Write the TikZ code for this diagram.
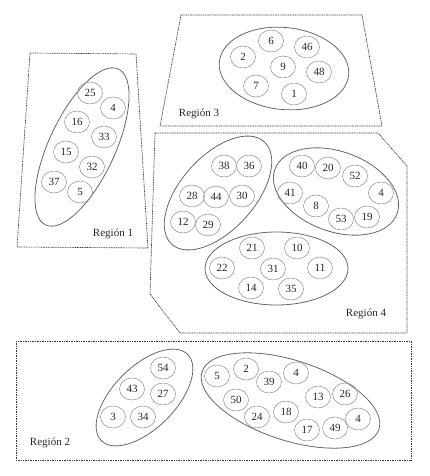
\documentclass[tikz,border=0pt]{standalone}
\usepackage{fontspec}
\setmainfont{Liberation Serif}
\usetikzlibrary{shapes.geometric}
\begin{document}
\begin{tikzpicture}[x=1pt,y=-1pt,
  regionline/.style={draw=black!80, line width=0.65pt, dash pattern=on 1pt off 0.7pt},
  bigset/.style={draw=black!60, line width=0.8pt, ellipse, inner sep=0pt},
  elem/.style={draw=black!45, line width=0.5pt, ellipse, inner sep=0pt, minimum width=25pt, minimum height=22pt, font=\fontsize{11}{12}\selectfont, text=black!85},
  rlabel/.style={font=\fontsize{11}{12}\selectfont, text=black!85}]
\useasboundingbox (0,0) rectangle (429,476);
% Region outlines
\draw[regionline] (30,53) -- (136,54) -- (148,248) -- (17,247) -- cycle;
\draw[regionline] (181,15) -- (362,15) -- (382,126) -- (160,126) -- cycle;
\draw[regionline] (155,133) -- (378,133) -- (407,166) -- (407,333) -- (180,333) -- (150,294) -- cycle;
\draw[regionline] (16,341) rectangle (411,460);
% Region labels
\node[rlabel] (l1) at (113,234) {Región 1};
\node[rlabel] (l3) at (199,114) {Región 3};
\node[rlabel] (l4) at (366,314) {Región 4};
\node[rlabel] (l2) at (50,443) {Región 2};
% Region 1
\node[bigset, minimum width=172pt, minimum height=66pt, rotate=65] (s1) at (82,147) {};
\node[elem] (a25) at (90,93) {25};
\node[elem] (a4) at (113,108) {4};
\node[elem] (a16) at (77,122) {16};
\node[elem] (a33) at (104,137) {33};
\node[elem] (a15) at (66,152) {15};
\node[elem] (a32) at (92,167) {32};
\node[elem] (a37) at (54,182) {37};
\node[elem] (a5) at (80,192) {5};
% Region 3
\node[bigset, minimum width=130pt, minimum height=82pt, rotate=-6] (s3) at (284,68.5) {};
\node[elem] (c6) at (271,41) {6};
\node[elem] (c46) at (307,47) {46};
\node[elem] (c2) at (243,57) {2};
\node[elem] (c9) at (283,67) {9};
\node[elem] (c48) at (319,72) {48};
\node[elem] (c7) at (256,86) {7};
\node[elem] (c1) at (294,94) {1};
% Region 4
\node[bigset, minimum width=138pt, minimum height=74pt, rotate=48] (s4a) at (218,193) {};
\node[elem] (d38) at (224,166) {38};
\node[elem] (d36) at (249,166) {36};
\node[elem] (d28) at (192,196) {28};
\node[elem] (d44) at (216,197) {44};
\node[elem] (d30) at (242,196) {30};
\node[elem] (d12) at (183,222) {12};
\node[elem] (d29) at (208,225) {29};
\node[bigset, minimum width=130pt, minimum height=80pt, rotate=-20] (s4b) at (336,191.5) {};
\node[elem] (e40) at (302,166) {40};
\node[elem] (e20) at (328,168) {20};
\node[elem] (e52) at (355,176) {52};
\node[elem] (e41) at (290,193) {41};
\node[elem] (e4) at (381,193) {4};
\node[elem] (e8) at (316,206) {8};
\node[elem] (e53) at (341,219) {53};
\node[elem] (e19) at (367,217) {19};
\node[bigset, minimum width=143pt, minimum height=73pt] (s4c) at (276.5,268.5) {};
\node[elem] (f21) at (252,248) {21};
\node[elem] (f10) at (297,248) {10};
\node[elem] (f22) at (222,268) {22};
\node[elem] (f31) at (273,269) {31};
\node[elem] (f11) at (320,268) {11};
\node[elem] (f14) at (251,288) {14};
\node[elem] (f35) at (291,289) {35};
% Region 2
\node[bigset, minimum width=122pt, minimum height=62pt, rotate=45] (s2a) at (144.5,397.5) {};
\node[elem] (g54) at (163,368) {54};
\node[elem] (g43) at (132,389) {43};
\node[elem] (g27) at (163,394) {27};
\node[elem] (g3) at (113,417) {3};
\node[elem] (g34) at (143,417) {34};
\node[bigset, minimum width=186pt, minimum height=80pt, rotate=-18] (s2b) at (290.5,400.5) {};
\node[elem] (h5) at (217,376) {5};
\node[elem] (h2) at (246,369) {2};
\node[elem] (h39) at (269,382) {39};
\node[elem] (h4) at (296,373) {4};
\node[elem] (h50) at (236,400) {50};
\node[elem] (h13) at (318,397) {13};
\node[elem] (h26) at (345,394) {26};
\node[elem] (h24) at (257,417) {24};
\node[elem] (h18) at (286,412) {18};
\node[elem] (h4b) at (358,419) {4};
\node[elem] (h17) at (307,430) {17};
\node[elem] (h49) at (335,428) {49};
\end{tikzpicture}
\end{document}
